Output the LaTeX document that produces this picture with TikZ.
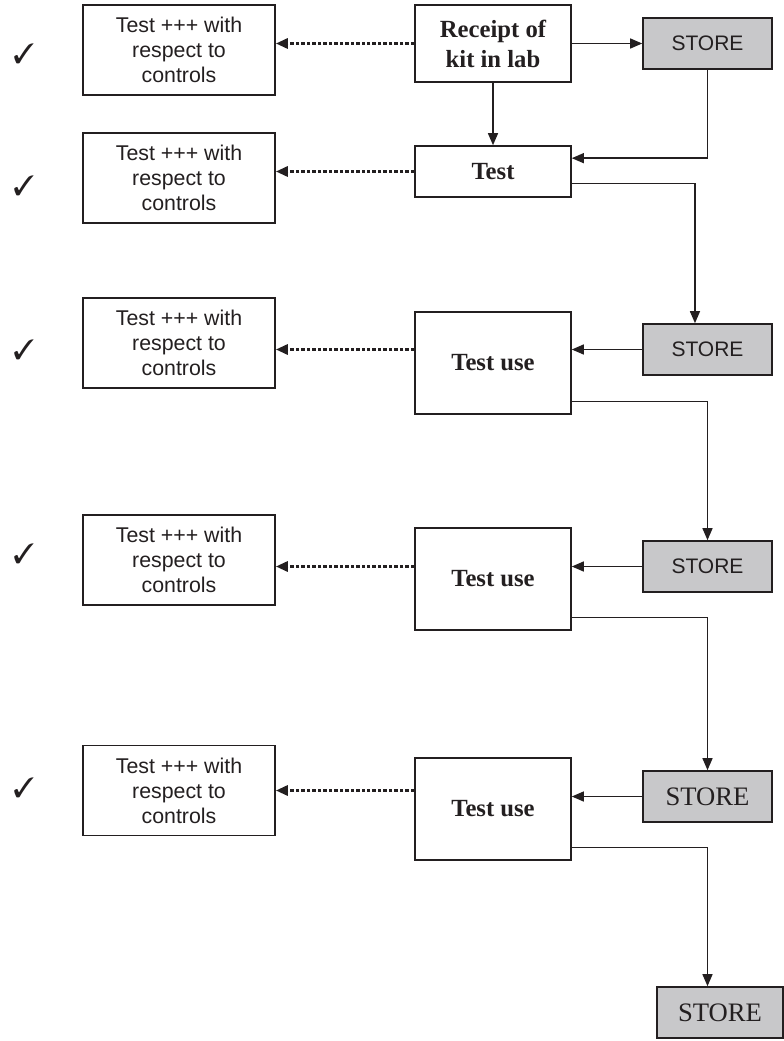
\documentclass[tikz,border=0pt]{standalone}
\usepackage{fontspec}
\usepackage{pifont}
\setmainfont{Liberation Serif}
\newfontfamily\helv{Liberation Sans}
\usetikzlibrary{arrows.meta}

\definecolor{ink}{RGB}{35,31,32}
\definecolor{storegray}{RGB}{200,200,202}

\begin{document}
\begin{tikzpicture}[
  x=0.75pt, y=-0.75pt,
  every node/.style={text=ink},
  ctrlbox/.style={rectangle, draw=ink, line width=1.2pt, fill=white,
                  minimum width=144pt, minimum height=67.5pt, inner sep=0pt,
                  align=center, font=\helv\fontsize{16}{18.75}\selectfont},
  stagebox/.style={rectangle, draw=ink, line width=1.2pt, fill=white,
                   minimum width=117pt, inner sep=0pt, align=center,
                   font=\bfseries\fontsize{18.5}{22.5}\selectfont},
  storebox/.style={rectangle, draw=ink, line width=1.2pt, fill=storegray,
                   minimum width=96.75pt, minimum height=38.25pt, inner sep=0pt,
                   font=\helv\fontsize{15.75}{18}\selectfont},
  tick/.style={inner sep=0pt, font=\fontsize{21}{21}\selectfont},
  arrow/.style={-{Triangle[length=9pt,width=7.5pt]}, line width=1pt, draw=ink},
  dotarrow/.style={-{Triangle[length=9pt,width=7.5pt]}, line width=2.2pt,
                   dash pattern=on 2.6pt off 1.5pt, draw=ink},
]
\useasboundingbox (0,0) rectangle (784,1041);

% control tests on the left
\node[ctrlbox] (l1) at (179,50) {Test +++ with\\respect to\\controls};
\node[ctrlbox] (l2) at (179,178) {Test +++ with\\respect to\\controls};
\node[ctrlbox] (l3) at (179,343) {Test +++ with\\respect to\\controls};
\node[ctrlbox] (l4) at (179,560) {Test +++ with\\respect to\\controls};
\node[ctrlbox] (l5) at (179,790.5) {Test +++ with\\respect to\\controls};

\node[tick] (c1) at (24,54) {\ding{51}};
\node[tick] (c2) at (24,186) {\ding{51}};
\node[tick] (c3) at (24,350) {\ding{51}};
\node[tick] (c4) at (24,554) {\ding{51}};
\node[tick] (c5) at (24,788) {\ding{51}};

% main column
\node[stagebox, minimum height=57.75pt] (rec) at (493,43.5) {Receipt of\\kit in lab};
\node[stagebox, minimum height=38.25pt] (test) at (493,171.5) {Test};
\node[stagebox, minimum height=76.5pt] (use1) at (493,363) {Test use};
\node[stagebox, minimum height=76.5pt] (use2) at (493,579) {Test use};
\node[stagebox, minimum height=76.5pt] (use3) at (493,809) {Test use};

% stores
\node[storebox] (st1) at (707.5,43.5) {STORE};
\node[storebox] (st2) at (707.5,349.5) {STORE};
\node[storebox] (st3) at (707.5,566.5) {STORE};
\node[storebox, font=\fontsize{20}{22}\selectfont] (st4) at (707.5,796.5) {STORE};
\node[storebox, font=\fontsize{20}{22}\selectfont, minimum width=94.5pt] (st5) at (720,1012.5) {STORE};

% flow
\draw[arrow] (rec) -- (st1);
\draw[arrow] (rec) -- (test);
\draw[arrow] (st1.south) |- ([yshift=10pt]test.east);
\draw[arrow] ([yshift=-9pt]test.east) -| ([xshift=-9.4pt]st2.north);
\draw[arrow] (st2.west) -- (st2.west -| use1.east);
\draw[arrow] ([yshift=9.75pt]use1.south east) -| (st3.north);
\draw[arrow] (st3.west) -- (st3.west -| use2.east);
\draw[arrow] ([yshift=9.75pt]use2.south east) -| (st4.north);
\draw[arrow] (st4.west) -- (st4.west -| use3.east);
\draw[arrow] ([yshift=9.75pt]use3.south east) -| (st4.south |- st5.north);

% results back to the controls
\draw[dotarrow] (rec.west) -- (rec.west -| l1.east);
\draw[dotarrow] (test.west) -- (test.west -| l2.east);
\draw[dotarrow] (use1.west |- st2) -- (l3.east |- st2);
\draw[dotarrow] (use2.west |- st3) -- (l4.east |- st3);
\draw[dotarrow] (use3.west |- l5.east) -- (l5.east);
\end{tikzpicture}
\end{document}
